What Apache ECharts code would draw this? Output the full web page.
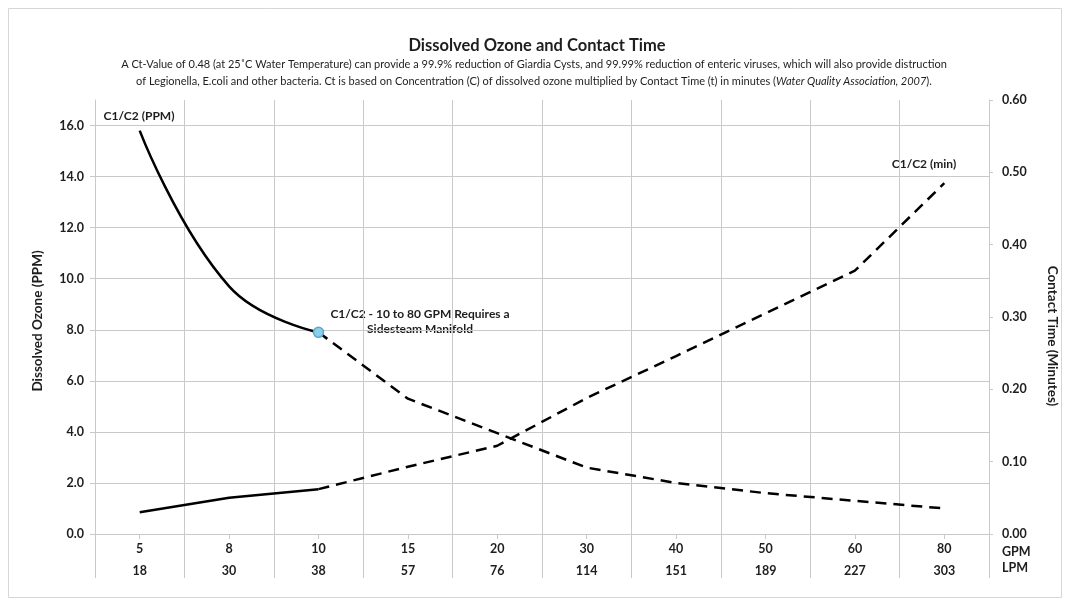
<!DOCTYPE html>
<html>
<head>
<meta charset="utf-8">
<script src="https://cdn.jsdelivr.net/npm/echarts@6/dist/echarts.min.js"></script>
<style>html,body{margin:0;padding:0;background:#fff}#c{width:1069px;height:605px}</style>
</head>
<body>
<div id="c"></div>
<script>
var gpm = ['5', '8', '10', '15', '20', '30', '40', '50', '60', '80'];
var lpm = ['18', '30', '38', '57', '76', '114', '151', '189', '227', '303'];
var ppm = [15.8, 9.7, 7.9, 5.3, 3.95, 2.6, 2.0, 1.6, 1.3, 1.0];
var minutes = [0.030, 0.050, 0.062, 0.093, 0.122, 0.188, 0.246, 0.305, 0.364, 0.485];
var solidEnd = 2;

var FONT = 'Lato';
var TXT = '#1e1e1e';
var GRID = '#c9c9c9';

var ppmSolid = ppm.map(function (v, i) {
  if (i === solidEnd) {
    return { value: v, symbol: 'circle', symbolSize: 10,
      itemStyle: { color: '#8ccfe6', borderColor: '#5aa8d0', borderWidth: 1.5 } };
  }
  return i < solidEnd ? v : null;
});
var ppmDash = ppm.map(function (v, i) { return i >= solidEnd ? v : null; });
var minSolid = minutes.map(function (v, i) { return i <= solidEnd ? v : null; });
var minDash = minutes.map(function (v, i) { return i >= solidEnd ? v : null; });

var chart = echarts.init(document.getElementById('c'), null, { renderer: 'canvas' });
var option = {
  backgroundColor: '#fff',
  animation: false,
  textStyle: { fontFamily: FONT },
  grid: { left: 95, right: 80, top: 100, bottom: 71 },
  xAxis: [{
    type: 'category', data: gpm, boundaryGap: true, position: 'bottom',
    axisLine: { show: true, lineStyle: { color: GRID, width: 1 } },
    axisTick: { show: true, length: 44, lineStyle: { color: GRID, width: 1 } },
    splitLine: { show: true, lineStyle: { color: GRID, width: 1 } },
    axisLabel: {
      margin: 4, interval: 0,
      formatter: function (v, i) { return '{a|' + v + '}\n{a|' + lpm[i] + '}'; },
      rich: { a: { fontFamily: FONT, fontWeight: 'bold', fontSize: 12.5, color: TXT, lineHeight: 22 } }
    }
  }, {
    type: 'category', data: gpm, boundaryGap: true, position: 'bottom',
    axisLine: { show: false },
    axisTick: { show: true, alignWithLabel: true, length: 5, lineStyle: { color: GRID } },
    axisLabel: { show: false }, splitLine: { show: false }
  }],
  yAxis: [{
    type: 'value', min: 0, max: 17, interval: 2, position: 'left',
    axisLine: { show: true, lineStyle: { color: GRID } },
    axisTick: { show: true, length: 5, lineStyle: { color: GRID } },
    splitLine: { show: true, showMaxLine: false, lineStyle: { color: GRID } },
    axisLabel: {
      showMaxLabel: false, margin: 11,
      formatter: function (v) { return v.toFixed(1); },
      fontFamily: FONT, fontWeight: 'bold', fontSize: 12.5, color: TXT
    }
  }, {
    type: 'value', min: 0, max: 0.6, interval: 0.1, position: 'right',
    axisLine: { show: true, lineStyle: { color: GRID } },
    axisTick: { show: true, length: 4, lineStyle: { color: GRID } },
    splitLine: { show: false },
    axisLabel: {
      margin: 13,
      formatter: function (v) { return v.toFixed(2); },
      fontFamily: FONT, fontWeight: 'bold', fontSize: 12.5, color: TXT
    }
  }],
  series: [{
    type: 'line', name: 'C1/C2 (PPM)', yAxisIndex: 0, data: ppmSolid, smooth: 0.45,
    symbol: 'none', z: 5,
    lineStyle: { color: '#000', width: 2.5 }
  }, {
    type: 'line', name: 'C1/C2 (PPM) dashed', yAxisIndex: 0, data: ppmDash,
    symbol: 'none', z: 3,
    lineStyle: { color: '#000', width: 2.5, type: [11, 7] }
  }, {
    type: 'line', name: 'C1/C2 (min)', yAxisIndex: 1, data: minSolid,
    symbol: 'none', z: 3,
    lineStyle: { color: '#000', width: 2.5 }
  }, {
    type: 'line', name: 'C1/C2 (min) dashed', yAxisIndex: 1, data: minDash,
    symbol: 'none', z: 3,
    lineStyle: { color: '#000', width: 2.5, type: [11, 7] }
  }],
  graphic: [
    { type: 'rect', shape: { x: 8.5, y: 8.5, width: 1053, height: 589 }, style: { fill: 'none', stroke: '#d6d6d6', lineWidth: 1 }, silent: true },
    { type: 'text', x: 537, y: 46, style: { text: 'Dissolved Ozone and Contact Time', fontFamily: FONT, fontWeight: 'bold', fontSize: 16.5, fill: TXT, align: 'center', verticalAlign: 'middle' } },
    { type: 'text', x: 534, y: 64, style: { text: 'A Ct-Value of 0.48 (at 25˚C Water Temperature) can provide a 99.9% reduction of Giardia Cysts, and 99.99% reduction of enteric viruses, which will also provide distruction', fontFamily: FONT, fontSize: 11, fill: TXT, align: 'center', verticalAlign: 'middle' } },
    { type: 'text', x: 534, y: 81, style: { text: 'of Legionella, E.coli and other bacteria. Ct is based on Concentration (C) of dissolved ozone multiplied by Contact Time (t) in minutes ({i|Water Quality Association, 2007}).', fontFamily: FONT, fontSize: 11, fill: TXT, align: 'center', verticalAlign: 'middle', rich: { i: { fontFamily: FONT, fontSize: 11, fontStyle: 'italic', fill: TXT } } } },
    { type: 'text', x: 38, y: 321, rotation: Math.PI / 2, style: { text: 'Dissolved Ozone (PPM)', fontFamily: FONT, fontWeight: 'bold', fontSize: 13.5, fill: TXT, align: 'center', verticalAlign: 'middle' } },
    { type: 'text', x: 1052, y: 336, rotation: -Math.PI / 2, style: { text: 'Contact Time (Minutes)', fontFamily: FONT, fontWeight: 'bold', fontSize: 13.5, fill: TXT, align: 'center', verticalAlign: 'middle' } },
    { type: 'text', x: 1002, y: 552, style: { text: 'GPM', fontFamily: FONT, fontWeight: 'bold', fontSize: 12.5, fill: TXT, align: 'left', verticalAlign: 'middle' } },
    { type: 'text', x: 1002, y: 568, style: { text: 'LPM', fontFamily: FONT, fontWeight: 'bold', fontSize: 12.5, fill: TXT, align: 'left', verticalAlign: 'middle' } },
    { type: 'text', x: 139, y: 116, style: { text: 'C1/C2 (PPM)', fontFamily: FONT, fontWeight: 'bold', fontSize: 12, fill: TXT, align: 'center', verticalAlign: 'middle' } },
    { type: 'text', x: 924, y: 164, style: { text: 'C1/C2 (min)', fontFamily: FONT, fontWeight: 'bold', fontSize: 12, fill: TXT, align: 'center', verticalAlign: 'middle' } },
    { type: 'text', x: 420, y: 321.5, style: { text: 'C1/C2 - 10 to 80 GPM Requires a\nSidesteam Manifold', fontFamily: FONT, fontWeight: 'bold', fontSize: 12, lineHeight: 15, fill: TXT, align: 'center', verticalAlign: 'middle' } }
  ]
};
chart.setOption(option);
</script>
</body>
</html>
